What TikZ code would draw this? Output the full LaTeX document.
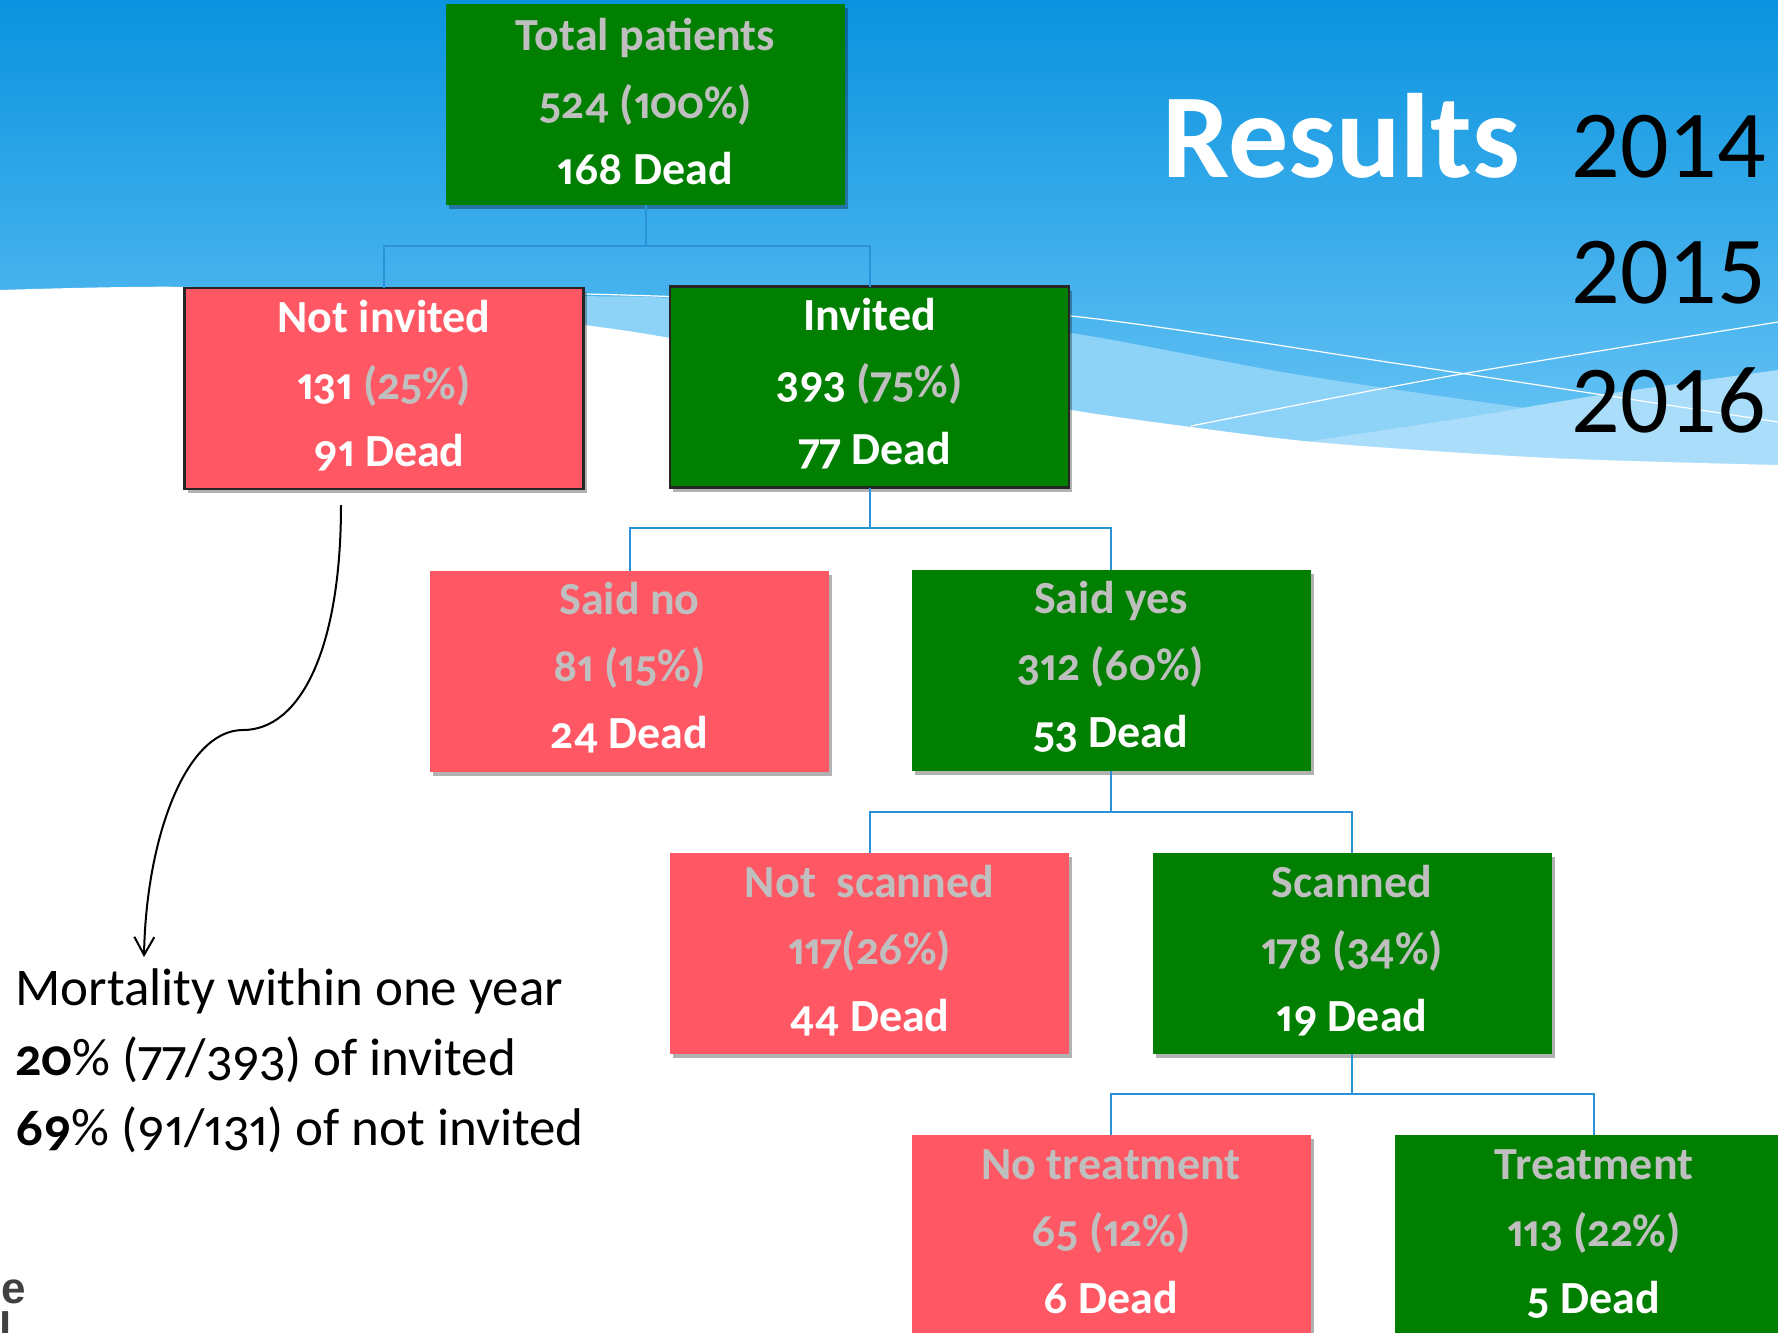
\documentclass[tikz,border=0pt]{standalone}
\usepackage{fontspec}
\setmainfont{Carlito}[Numbers={OldStyle,Proportional}]
\newfontfamily\boxfont{Carlito}[Numbers={OldStyle,Proportional}]
\newfontfamily\yearfont{Carlito}
\newfontfamily\logofont{Liberation Sans}
\usetikzlibrary{calc,arrows.meta,shadows}
\definecolor{boxgreen}{HTML}{007F00}
\definecolor{boxred}{HTML}{FF5864}
\definecolor{tgray}{HTML}{BFBFBF}
\definecolor{conncol}{HTML}{2A92D8}
\definecolor{bgtop}{HTML}{0A93DF}
\definecolor{bgbot}{HTML}{6CC6F6}
\definecolor{bandA}{HTML}{8DD2F7}
\definecolor{bandB}{HTML}{A9DDF9}
\begin{document}
\begin{tikzpicture}[x=0.5pt,y=-0.5pt,
  box/.style={minimum width=199.5pt,minimum height=100.5pt,inner sep=0pt,outer sep=0pt,
    drop shadow={shadow xshift=1.5pt,shadow yshift=-2pt,opacity=0.3,fill=black}},
  gbox/.style={box,fill=boxgreen},
  rbox/.style={box,fill=boxred},
  bord/.style={draw=black!85,line width=1.2pt},
  bt/.style={anchor=base,inner sep=0pt,text=white,font=\boxfont\bfseries\fontsize{23}{25}\selectfont},
  conn/.style={draw=conncol,line width=1pt},
  year/.style={anchor=base west,inner sep=0pt,text=black,font=\yearfont\fontsize{48}{50}\selectfont},
  mort/.style={anchor=base west,inner sep=0pt,text=black,font=\fontsize{26.5}{30}\selectfont},
]
\newcommand\boxlines[4]{%
  \node[bt] (#1-a) at ($(#1.north)+(0,44)$) {#2};
  \node[bt] (#1-b) at ($(#1.north)+(0,111)$) {#3};
  \node[bt] (#1-c) at ($(#1.north)+(0,178)$) {#4};}
\useasboundingbox (0,0) rectangle (1778,1333);
\clip (0,0) rectangle (1778,1333);
% background
\fill[white] (0,0) rectangle (1778,1333);
\shade[top color=bgtop,bottom color=bgbot] (0,0) rectangle (1778,470);
\fill[bandA] plot[smooth] coordinates {(300,289) (585,296) (670,298) (900,315) (1071,333) (1300,375) (1561,413) (1778,440)} -- (1778,500) -- (300,500) -- cycle;
\fill[bandB] plot[smooth] coordinates {(1250,450) (1450,420) (1600,395) (1778,370)} -- (1778,500) -- (1250,500) -- cycle;
\fill[white] plot[smooth] coordinates {(0,290) (190,287) (400,300) (585,325) (670,338) (900,380) (1071,410) (1191,427) (1325,443) (1550,458) (1778,465)} -- (1778,520) -- (0,520) -- cycle;
\draw[white,line width=0.6pt] plot[smooth] coordinates {(200,288) (585,294) (800,302) (1071,316) (1400,364) (1778,422)};
\draw[white,line width=0.6pt] plot[smooth] coordinates {(1191,426) (1450,376) (1778,322)};
% title
\node[anchor=base west,inner sep=0pt,text=white,font=\boxfont\bfseries\fontsize{60}{62}\selectfont] (title) at (1162,177) {Results};
\node[year] (y14) at (1571,177) {2014};
\node[year] (y15) at (1571,303) {2015};
\node[year] (y16) at (1571,432) {2016};
% boxes
\node[gbox] (tot) at (645.5,104.5) {};
\node[rbox,bord] (ni) at (384,388.5) {};
\node[gbox,bord] (inv) at (869.5,387) {};
\node[rbox] (sn) at (629.5,671) {};
\node[gbox] (sy) at (1111,670) {};
\node[rbox] (ns) at (869.5,953.5) {};
\node[gbox] (sc) at (1352,953.5) {};
\node[rbox] (nt) at (1111,1235.5) {};
\node[gbox] (tr) at (1594,1235.5) {};
% connectors
\draw[conn] (tot.south) -- ++(0,41) -| (ni.north);
\draw[conn] (tot.south) -- ++(0,41) -| (inv.north);
\draw[conn] (inv.south) -- ++(0,40) -| (sn.north);
\draw[conn] (inv.south) -- ++(0,40) -| (sy.north);
\draw[conn] (sy.south) -- ++(0,41) -| (ns.north);
\draw[conn] (sy.south) -- ++(0,41) -| (sc.north);
\draw[conn] (sc.south) -- ++(0,40) -| (nt.north);
\draw[conn] (sc.south) -- ++(0,40) -| (tr.north);
% box texts
\node[bt] (tot-a) at ($(tot.north)+(0,46)$) {\textcolor{tgray}{Total patients}};
\node[bt] (tot-b) at ($(tot.north)+(0,114)$) {\textcolor{tgray}{524 (100\%)}};
\node[bt] (tot-c) at ($(tot.north)+(0,180)$) {168 Dead};
\boxlines{ni}{Not invited}{131 \textcolor{tgray}{(25\%)}}{\ 91 Dead}
\boxlines{inv}{Invited}{393 \textcolor{tgray}{(75\%)}}{\ 77 Dead}
\boxlines{sn}{\textcolor{tgray}{Said no}}{\textcolor{tgray}{81 (15\%)}}{24 Dead}
\boxlines{sy}{\textcolor{tgray}{Said yes}}{\textcolor{tgray}{312 (60\%)}}{53 Dead}
\boxlines{ns}{\textcolor{tgray}{Not\ \ scanned}}{\textcolor{tgray}{117(26\%)}}{44 Dead}
\boxlines{sc}{\textcolor{tgray}{Scanned}}{\textcolor{tgray}{178 (34\%)}}{19 Dead}
\boxlines{nt}{\textcolor{tgray}{No treatment}}{\textcolor{tgray}{65 (12\%)}}{6 Dead}
\boxlines{tr}{\textcolor{tgray}{Treatment}}{\textcolor{tgray}{113 (22\%)}}{5 Dead}
% mortality note
\node[mort] (m1) at (15,1005) {Mortality within one year};
\node[mort] (m2) at (15,1075) {\textbf{20}\% (77/393) of invited};
\node[mort] (m3) at (15,1145) {\textbf{69}\% (91/131) of not invited};
\coordinate (cs) at (341,505);
\coordinate (cm) at (243,730);
\coordinate (ce) at (144,957);
\draw[black,line width=1pt,-{Straight Barb[length=9pt,width=10pt]}] (cs) .. controls (341,650) and (300,730) .. (cm) .. controls (185,730) and (146,840) .. (ce);
% logo fragment
\node[anchor=base east,inner sep=0pt,text=black!75,font=\logofont\bfseries\fontsize{22}{24}\selectfont] (lg1) at (26,1303) {e};
\node[anchor=base east,inner sep=0pt,text=black!75,font=\logofont\bfseries\fontsize{22}{24}\selectfont] (lg2) at (12,1343) {l};
\end{tikzpicture}
\end{document}
